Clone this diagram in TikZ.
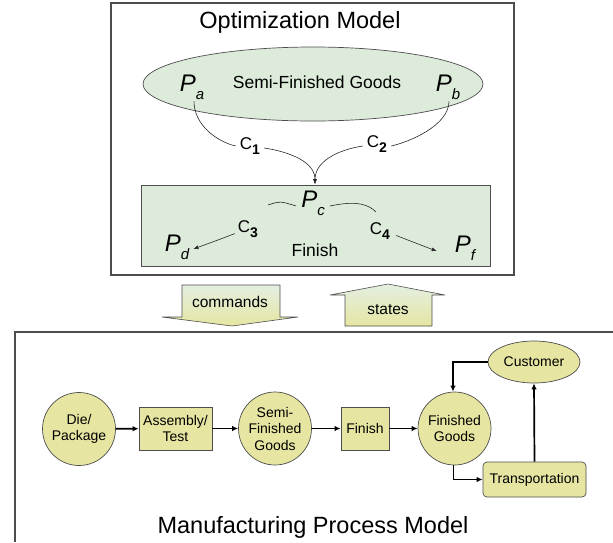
\documentclass[tikz,border=0pt]{standalone}
\usepackage{fontspec}
\setmainfont{Liberation Sans}
\usetikzlibrary{arrows.meta,shapes.geometric,calc}

\definecolor{paleGreen}{HTML}{DCEBDA}
\definecolor{paleYellow}{HTML}{E6E6A2}
\definecolor{frameGray}{HTML}{4D4D4D}

% italic P with a lowered italic index
\newcommand{\pvar}[1]{{\itshape P\raisebox{-0.32em}{\fontsize{15}{15}\selectfont #1}}}
% upright C with a lowered bold index
\newcommand{\cvar}[1]{C\raisebox{-0.28em}{\fontsize{14}{14}\selectfont\bfseries #1}}

\begin{document}
\begin{tikzpicture}[x=1pt,y=-1pt,
  title/.style={font=\fontsize{23.5}{28}\selectfont, inner sep=0pt},
  pname/.style={font=\fontsize{24}{28}\selectfont, inner sep=0pt},
  cname/.style={font=\fontsize{17}{20}\selectfont, inner sep=0pt},
  thinlink/.style={draw=black!85, line width=0.6pt},
  thinarrow/.style={thinlink, -{Latex[length=5pt,width=4pt]}},
  frame/.style={draw=frameGray, line width=1.1pt},
  block/.style={draw=frameGray, line width=0.6pt, top color=paleGreen!80!white, bottom color=paleYellow},
  proc/.style={draw=frameGray, line width=0.7pt, fill=paleYellow, font=\fontsize{14}{16.5}\selectfont, align=center, inner sep=0pt},
  roundproc/.style={proc, circle, minimum size=73pt},
  boxproc/.style={proc, rectangle, minimum height=43pt},
  flow/.style={draw=black, line width=1.7pt, -{Latex[length=6pt,width=5.5pt]}}
]
\useasboundingbox (0,0) rectangle (613,542);

% ---------- optimization model ----------
\draw[frame] (111,3) rectangle (514,275);
\node[title] (optTitle) at (300,22) {Optimization Model};

\node[ellipse, draw=frameGray, line width=0.7pt, fill=paleGreen,
      minimum width=340pt, minimum height=74pt, inner sep=0pt] (sfg) at (313,84) {};
\node[font=\fontsize{17.5}{21}\selectfont, inner sep=0pt] (sfgText) at (317,82) {Semi-Finished Goods};
\node[pname] (Pa) at (192,87) {\pvar{a}};
\node[pname] (Pb) at (448,87) {\pvar{b}};

\node[cname] (C1) at (250,146) {\cvar{1}};
\node[cname] (C2) at (377,144) {\cvar{2}};

\node[draw=frameGray, line width=0.7pt, fill=paleGreen,
      minimum width=349pt, minimum height=81pt, inner sep=0pt] (finBox) at (315.5,225.5) {};
\coordinate (merge) at (315,184);

\draw[thinlink] ([xshift=2pt,yshift=-2pt]Pa.south) .. controls +(0,24) and +(-18,-4) .. ([xshift=-4pt]C1.west);
\draw[thinarrow] ([xshift=4pt,yshift=-2pt]C1.east) .. controls +(26,4) and +(0,-22) .. (merge);
\draw[thinlink] ([xshift=1pt,yshift=-2pt]Pb.south) .. controls +(0,24) and +(18,-4) .. ([xshift=4pt,yshift=-2pt]C2.east);
\draw[thinarrow] ([xshift=-4pt,yshift=-2pt]C2.west) .. controls +(-26,4) and +(0,-22) .. (merge);

\node[pname] (Pc) at (313,203) {\pvar{c}};
\node[pname] (Pd) at (177,247) {\pvar{d}};
\node[pname] (Pf) at (465,248) {\pvar{f}};
\node[cname] (C3) at (248,229) {\cvar{3}};
\node[cname] (C4) at (380,231) {\cvar{4}};
\node[font=\fontsize{17.5}{21}\selectfont, inner sep=0pt] (finText) at (315,250) {Finish};

\coordinate (leftEnd) at (268,205);
\coordinate (rightEnd) at (376,212);
\draw[thinlink] ([xshift=-5pt,yshift=-3pt]Pc.west) .. controls (280,201) .. (leftEnd);
\draw[thinlink] ([xshift=5pt,yshift=-3pt]Pc.east) .. controls (358,200) and (369,205) .. (rightEnd);
\draw[thinarrow] ([xshift=-3pt,yshift=4pt]C3.south west) .. controls (218,240) .. ([xshift=4pt,yshift=-2pt]Pd.east);
\draw[thinarrow] ([xshift=6pt,yshift=4pt]C4.south east) .. controls (414,243) .. ([xshift=-18pt,yshift=-3pt]Pf.west);

% ---------- exchange between the models ----------
\shade[block] (182,285) -- (280,285) -- (280,317) -- (298,317) -- (232,326)
  -- (162,317) -- (182,317) -- cycle;
\node[font=\fontsize{15.5}{18}\selectfont, inner sep=0pt] (cmdText) at (230,302) {commands};
\shade[block] (388,284) -- (445,295) -- (432,295) -- (432,326) -- (345,326)
  -- (345,295) -- (330,295) -- cycle;
\node[font=\fontsize{15.5}{18}\selectfont, inner sep=0pt] (stText) at (388,310) {states};

% ---------- manufacturing process model ----------
\draw[frame] (613,332) -- (15,332) -- (15,542);
\node[title] (mfgTitle) at (313,527) {Manufacturing Process Model};

\node[roundproc] (die) at (79,429) {Die/\\Package};
\node[boxproc, minimum width=73pt] (asm) at (175.5,428.5) {Assembly/\\Test};
\node[roundproc] (semi) at (275,428.5) {Semi-\\Finished\\Goods};
\node[boxproc, minimum width=48pt] (fin) at (365,428.5) {Finish};
\node[roundproc] (fg) at (454.5,428.5) {Finished\\Goods};
\node[proc, ellipse, minimum width=92pt, minimum height=42pt] (cust) at (534,362) {Customer};
\node[proc, rectangle, rounded corners=4pt, minimum width=103pt, minimum height=35pt] (trans) at (534.5,479.5) {Transportation};

\draw[flow] (die) -- (asm);
\draw[flow] (asm) -- (semi);
\draw[flow] (semi) -- (fin);
\draw[flow] (fin) -- (fg);
\draw[flow] (cust.west) -| ([xshift=-1.5pt]fg.north);
\draw[flow] ([xshift=-1pt]fg.south) |- (trans.west);
\draw[flow] (trans.north) -- (cust.south);
\end{tikzpicture}
\end{document}
